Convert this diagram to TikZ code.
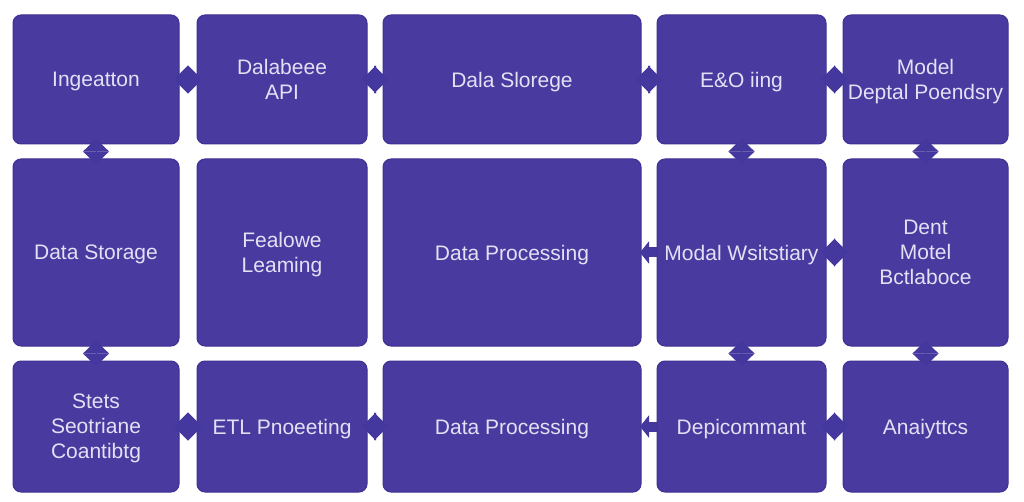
\documentclass[tikz,border=0pt]{standalone}
\usepackage{fontspec}
\setmainfont{Liberation Sans}
\usetikzlibrary{arrows.meta}
\definecolor{boxfill}{RGB}{73,58,160}
\definecolor{boxline}{RGB}{62,48,148}
\definecolor{boxtext}{RGB}{228,224,244}
\definecolor{conncol}{RGB}{68,55,158}
\tikzset{
  blk/.style={rectangle, rounded corners=8pt, fill=boxfill, draw=boxline, line width=1pt,
    inner sep=0pt, outer sep=0pt, align=center, text=boxtext, text depth=0pt,
    font=\fontsize{21}{25}\selectfont},
  conn/.style={draw=conncol, line width=1pt, shorten <=-5pt, shorten >=-5pt,
    arrows={Triangle[length=14pt,width=28pt,fill=conncol]-Triangle[length=14pt,width=28pt,fill=conncol]}},
  connv/.style={draw=conncol, line width=1pt, shorten <=-5pt, shorten >=-5pt,
    arrows={Triangle[length=12.5pt,width=26pt,fill=conncol]-Triangle[length=12.5pt,width=26pt,fill=conncol]}},
  conns/.style={draw=conncol, line width=10pt, shorten >=-1pt,
    arrows={-Triangle[length=9pt,width=22pt,fill=conncol]}}
}
\begin{document}
\begin{tikzpicture}[x=1pt,y=-1pt]
\useasboundingbox[fill=white] (0,0) rectangle (1024,502);
% row 1
\node[blk, minimum width=166pt, minimum height=129pt] (a1) at (96,79.5) {Ingeatton};
\node[blk, minimum width=170pt, minimum height=129pt] (a2) at (282,79.5) {Dalabeee\\API};
\node[blk, minimum width=258pt, minimum height=129pt] (a3) at (512,79.5) {Dala Slorege};
\node[blk, minimum width=169pt, minimum height=129pt] (a4) at (741.5,79.5) {E\&O iing};
\node[blk, minimum width=165pt, minimum height=129pt] (a5) at (925.5,79.5) {Model\\Deptal Poendsry};
% row 2
\node[blk, minimum width=166pt, minimum height=187pt] (b1) at (96,252.5) {Data Storage};
\node[blk, minimum width=170pt, minimum height=187pt] (b2) at (282,252.5) {Fealowe\\Leaming};
\node[blk, minimum width=258pt, minimum height=187pt] (b3) at (512,252.5) {Data Processing};
\node[blk, minimum width=169pt, minimum height=187pt] (b4) at (741.5,252.5) {Modal Wsitstiary};
\node[blk, minimum width=165pt, minimum height=187pt] (b5) at (925.5,252.5) {Dent\\Motel\\Bctlaboce};
% row 3
\node[blk, minimum width=166pt, minimum height=131pt] (c1) at (96,426.5) {Stets\\Seotriane\\Coantibtg};
\node[blk, minimum width=170pt, minimum height=131pt] (c2) at (282,426.5) {ETL Pnoeeting};
\node[blk, minimum width=258pt, minimum height=131pt] (c3) at (512,426.5) {Data Processing};
\node[blk, minimum width=169pt, minimum height=131pt] (c4) at (741.5,426.5) {Depicommant};
\node[blk, minimum width=165pt, minimum height=131pt] (c5) at (925.5,426.5) {Anaiyttcs};
% horizontal connectors
\draw[conn] (a1.east) -- (a2.west);
\draw[conn] (a2.east) -- (a3.west);
\draw[conn] (a3.east) -- (a4.west);
\draw[conn] (a4.east) -- (a5.west);
\draw[conns] (b4.west) -- (b3.east);
\draw[conn] (b4.east) -- (b5.west);
\draw[conn] (c1.east) -- (c2.west);
\draw[conn] (c2.east) -- (c3.west);
\draw[conns] (c4.west) -- (c3.east);
\draw[conn] (c4.east) -- (c5.west);
% vertical connectors
\draw[connv] (a1.south) -- (b1.north);
\draw[connv] (b1.south) -- (c1.north);
\draw[connv] (a4.south) -- (b4.north);
\draw[connv] (b4.south) -- (c4.north);
\draw[connv] (a5.south) -- (b5.north);
\draw[connv] (b5.south) -- (c5.north);
\end{tikzpicture}
\end{document}
